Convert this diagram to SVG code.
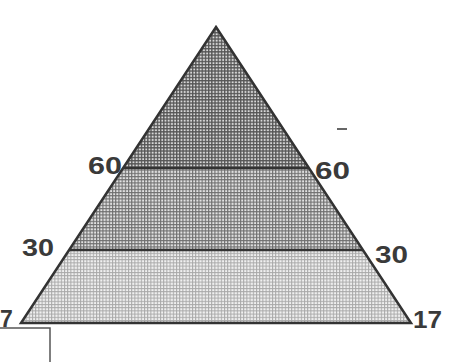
<svg xmlns="http://www.w3.org/2000/svg" width="461" height="362" viewBox="0 0 461 362">
<style>
.lbl{font-family:"Liberation Sans",Arial,sans-serif;font-weight:bold;font-size:23px;fill:#3a3a3a}
.ln{stroke:#333;stroke-width:2.5;fill:none}
.thin{stroke:#555;stroke-width:1.5;fill:none}
</style>
<defs>
<pattern id="pTop" width="3.2" height="3.2" patternUnits="userSpaceOnUse">
<rect width="3.2" height="3.2" fill="#d8d8d8"/>
<rect width="3.2" height="1.3" fill="#555"/>
<rect width="1.3" height="3.2" fill="#555"/>
</pattern>
<pattern id="pMid" width="3.2" height="3.2" patternUnits="userSpaceOnUse">
<rect width="3.2" height="3.2" fill="#e2e2e2"/>
<rect width="3.2" height="1.1" fill="#6e6e6e"/>
<rect width="1.1" height="3.2" fill="#6e6e6e"/>
</pattern>
<pattern id="pBot" width="3.2" height="3.2" patternUnits="userSpaceOnUse">
<rect width="3.2" height="3.2" fill="#f0f0f0"/>
<rect width="3.2" height="1" fill="#a8a8a8"/>
<rect width="1" height="3.2" fill="#a8a8a8"/>
</pattern>
</defs>
<rect width="461" height="362" fill="#fff"/>
<g id="top-band"><polygon points="216,27 309,168 123,168" fill="url(#pTop)"/></g>
<g id="middle-band"><polygon points="123,168 309,168 363,250 69,250" fill="url(#pMid)"/></g>
<g id="bottom-band"><polygon points="69,250 363,250 411,323 21,323" fill="url(#pBot)"/></g>
<g id="connectors">
<polygon class="ln" points="216,27 411,323 21,323" stroke-linejoin="miter"/>
<line class="ln" x1="123" y1="168" x2="309" y2="168"/>
<line class="ln" x1="69" y1="250" x2="363" y2="250"/>
<polyline class="thin" points="0,328 50,328 50,362"/>
<line x1="337" y1="129" x2="347" y2="129" stroke="#666" stroke-width="2"/>
</g>
<g id="labels">
<text class="lbl" x="88" y="174" textLength="34" lengthAdjust="spacingAndGlyphs">60</text>
<text class="lbl" x="315" y="179" textLength="35" lengthAdjust="spacingAndGlyphs">60</text>
<text class="lbl" x="22" y="256" textLength="32" lengthAdjust="spacingAndGlyphs">30</text>
<text class="lbl" x="375" y="263" textLength="33" lengthAdjust="spacingAndGlyphs">30</text>
<text class="lbl" x="413" y="328" textLength="29" lengthAdjust="spacingAndGlyphs">17</text>
<text class="lbl" x="0" y="327" font-size="20">7</text>
</g>
</svg>
